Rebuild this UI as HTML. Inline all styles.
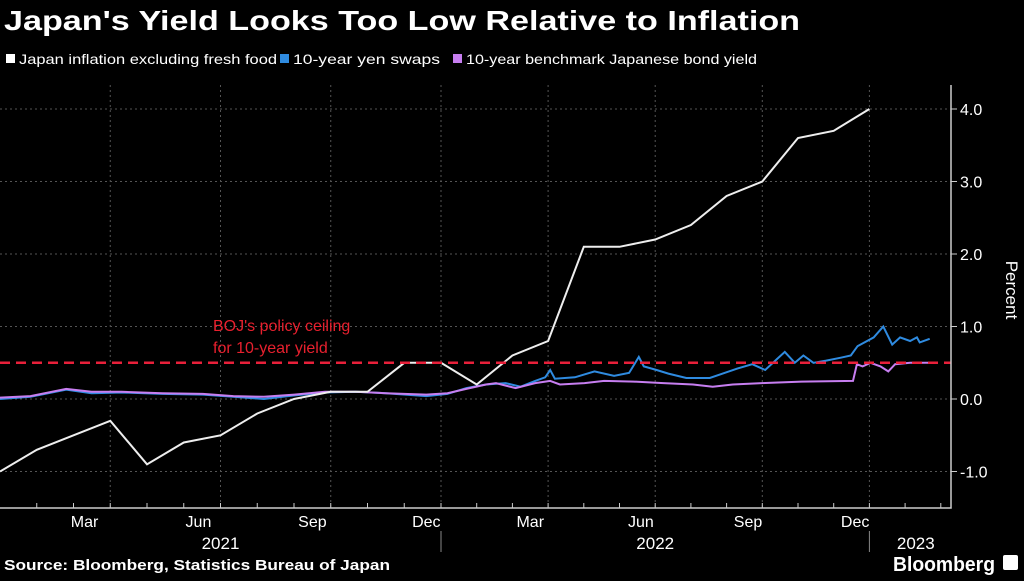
<!DOCTYPE html>
<html><head><meta charset="utf-8"><style>
body{margin:0;background:#000;width:1024px;height:576px;overflow:hidden;font-family:"Liberation Sans",sans-serif}
</style></head><body>
<svg width="1024" height="576" xmlns="http://www.w3.org/2000/svg" id="c" style="font-family:'Liberation Sans',sans-serif">
<text x="4" y="30" fill="#fff" font-size="28" font-weight="bold" textLength="796" lengthAdjust="spacingAndGlyphs">Japan's Yield Looks Too Low Relative to Inflation</text>
<g font-size="14" fill="#fff">
<rect x="6" y="54" width="9" height="9" fill="#fff"/>
<text x="19" y="64" textLength="258" lengthAdjust="spacingAndGlyphs">Japan inflation excluding fresh food</text>
<rect x="280" y="54" width="9" height="9" fill="#2f8be0"/>
<text x="293" y="64" textLength="147" lengthAdjust="spacingAndGlyphs">10-year yen swaps</text>
<rect x="453" y="54" width="9" height="9" fill="#c77ef0"/>
<text x="466" y="64" textLength="291" lengthAdjust="spacingAndGlyphs">10-year benchmark Japanese bond yield</text>
</g>
<g id="grid"></g>
<g id="marks"></g>
<g id="axes"></g>
<text x="213" y="331" fill="#e8202e" font-size="16">BOJ's policy ceiling</text>
<text x="213" y="353" fill="#e8202e" font-size="16">for 10-year yield</text>
<text x="1006" y="290" fill="#fff" font-size="17" text-anchor="middle" transform="rotate(90 1006 290)">Percent</text>
<text x="4" y="570" fill="#fff" font-size="15" font-weight="bold" textLength="386" lengthAdjust="spacingAndGlyphs">Source: Bloomberg, Statistics Bureau of Japan</text>
<text x="893" y="571" fill="#fff" font-size="20" font-weight="bold" textLength="102" lengthAdjust="spacingAndGlyphs">Bloomberg</text>
<rect x="1003" y="555" width="15" height="15" rx="2" fill="#fff"/>
</svg>
<script>
const yTicks=[4,3,2,1,0,-1];
const yTickLabels=["4.0","3.0","2.0","1.0","0.0","-1.0"];
const monthLabels=["Mar","Jun","Sep","Dec","Mar","Jun","Sep","Dec"];
const monthLabelPos=[2.3,5.4,8.5,11.6,14.5,17.6,20.6,23.6];
const yearLabels=["2021","2022","2023"];
const yearLabelPos=[6,18,25.3];
const quarterGrid=[3,6,9,12,15,18,21,24];
const ceiling=0.5;
const inflation=[-1.0,-0.7,-0.5,-0.3,-0.9,-0.6,-0.5,-0.2,0.0,0.1,0.1,0.5,0.5,0.2,0.6,0.8,2.1,2.1,2.2,2.4,2.8,3.0,3.6,3.7,4.0];
const swaps=[[0,0],[0.83,0.03],[1.8,0.13],[2.49,0.08],[3.31,0.09],[4.42,0.07],[5.52,0.06],[6.35,0.03],[7.18,0.0],[8.01,0.05],[8.84,0.09],[9.67,0.1],[10.5,0.08],[11.6,0.04],[12.18,0.07],[12.71,0.15],[13.26,0.2],[13.81,0.22],[14.23,0.17],[14.64,0.25],[14.92,0.3],[15.06,0.4],[15.19,0.28],[15.75,0.3],[16.3,0.38],[16.85,0.32],[17.27,0.36],[17.54,0.58],[17.68,0.45],[18.04,0.4],[18.37,0.35],[18.87,0.29],[19.53,0.29],[19.89,0.35],[20.3,0.42],[20.72,0.48],[21.08,0.4],[21.41,0.55],[21.63,0.65],[21.91,0.5],[22.15,0.6],[22.43,0.5],[22.79,0.53],[23.2,0.57],[23.48,0.6],[23.67,0.73],[24.12,0.85],[24.39,1.0],[24.64,0.75],[24.86,0.85],[25.14,0.8],[25.33,0.85],[25.41,0.78],[25.69,0.83]];
const jgb=[[0,0.02],[0.83,0.04],[1.8,0.14],[2.49,0.1],[3.31,0.1],[4.42,0.08],[5.52,0.07],[6.35,0.04],[7.18,0.03],[8.01,0.06],[8.84,0.1],[9.67,0.1],[10.5,0.08],[11.6,0.06],[12.18,0.08],[12.71,0.14],[13.26,0.2],[13.54,0.22],[14.09,0.15],[14.64,0.22],[15.06,0.25],[15.33,0.2],[16.02,0.22],[16.57,0.25],[17.4,0.24],[18.23,0.22],[19.06,0.2],[19.61,0.17],[20.17,0.2],[20.99,0.22],[22.1,0.24],[23.54,0.25],[23.65,0.48],[23.81,0.45],[24.03,0.5],[24.31,0.45],[24.53,0.38],[24.72,0.48],[25.14,0.5],[25.69,0.5]];
const X=t=>t<=12?t*36.75:441+(t-12)*35.7, Y=v=>399-v*72.5;
const NS="http://www.w3.org/2000/svg";
function mk(tag,attrs,parent){const e=document.createElementNS(NS,tag);for(const k in attrs)e.setAttribute(k,attrs[k]);document.getElementById(parent).appendChild(e);return e;}
yTicks.forEach((v,i)=>{
 const g=mk('line',{x1:0,x2:951,y1:Y(v),y2:Y(v),stroke:'#555','stroke-dasharray':'2,3','stroke-width':1},'grid');
 
 
 const tk=mk('line',{x1:951,x2:957,y1:Y(v),y2:Y(v),stroke:'#ccc'},'axes');
 
 
 const t=mk('text',{x:960,y:Y(v)+6,fill:'#fff','font-size':16},'axes');t.textContent=yTickLabels[i];
 
 
});
quarterGrid.forEach(q=>{
 const g=mk('line',{x1:X(q),x2:X(q),y1:85,y2:508,stroke:'#555','stroke-dasharray':'2,3'},'grid');
 
 
});
for(let m=1;m<=26;m++){const tk=mk('line',{x1:X(m),x2:X(m),y1:508,y2:503,stroke:'#ccc'},'axes');
 
 }
[12,24].forEach(m=>{const s=mk('line',{x1:X(m),x2:X(m),y1:531,y2:552,stroke:'#888'},'axes');
 
 });
monthLabels.forEach((l,i)=>{const t=mk('text',{x:X(monthLabelPos[i]),y:527,fill:'#fff','font-size':16,'text-anchor':'middle'},'axes');t.textContent=l;
 
 });
yearLabels.forEach((l,i)=>{const t=mk('text',{x:X(yearLabelPos[i]),y:549,fill:'#fff','font-size':17,'text-anchor':'middle'},'axes');t.textContent=l;
 
 });
const ax=mk('path',{d:'M0 508H951V85',fill:'none',stroke:'#ccc','stroke-width':1.5},'axes');


const pl=(pts)=>pts.map((p,i)=>(i?'L':'M')+X(p[0]).toFixed(1)+' '+Y(p[1]).toFixed(1)).join('');
const sw=mk('path',{d:pl(swaps),fill:'none',stroke:'#2f8be0','stroke-width':2},'marks');


const jg=mk('path',{d:pl(jgb),fill:'none',stroke:'#c77ef0','stroke-width':2},'marks');


const inf=mk('path',{d:pl(inflation.map((v,i)=>[i,v])),fill:'none',stroke:'#eee','stroke-width':2},'marks');


const cl=mk('line',{x1:0,x2:951,y1:Y(ceiling),y2:Y(ceiling),stroke:'#e8203a','stroke-width':2.5,'stroke-dasharray':'10,6'},'marks');


</script>
</body></html>
